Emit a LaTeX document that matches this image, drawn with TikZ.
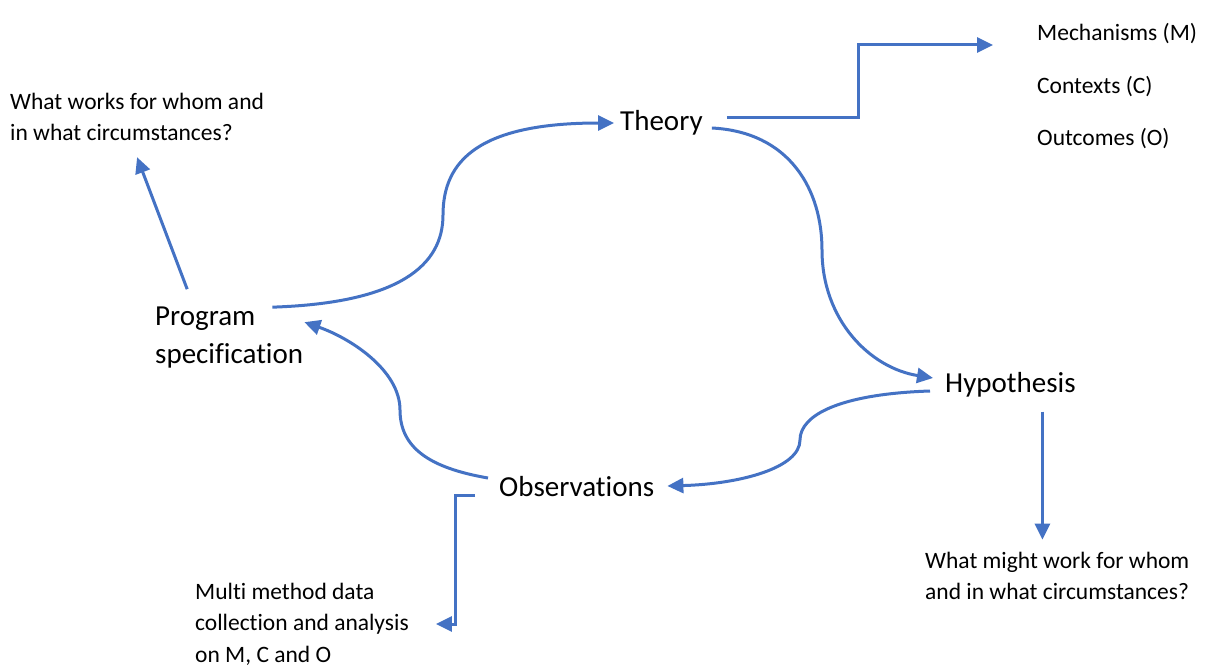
\documentclass[tikz,border=0pt]{standalone}
\usepackage{fontspec}
\setmainfont{Carlito}[Ligatures=NoCommon]
\usetikzlibrary{arrows.meta,calc}
\definecolor{cblue}{HTML}{4472C4}
\tikzset{
  big/.style={inner sep=0pt, anchor=west, align=left, font=\fontsize{29}{38}\selectfont},
  small/.style={inner sep=0pt, anchor=west, align=left, font=\fontsize{23.5}{31.5}\selectfont},
  conn/.style={draw=cblue, line width=3pt, -{Triangle[length=16pt,width=15pt]}},
}
\begin{document}
\begin{tikzpicture}[x=1pt,y=-1pt]
\useasboundingbox[fill=white] (0,0) rectangle (1232,671);
% nodes
\node[small] (works) at (10,117) {What works for whom and\\in what circumstances?};
\node[big] (theory) at (620,123) {Theory};
\node[small] (mech) at (1037,34) {Mechanisms (M)};
\node[small] (ctx) at (1037,87) {Contexts (C)};
\node[small] (out) at (1037,139) {Outcomes (O)};
\node[big] (prog) at (155,338) {Program\\specification};
\node[big] (hyp) at (945,385) {Hypothesis};
\node[big] (obs) at (499,487) {Observations};
\node[small] (might) at (925,576) {What might work for whom\\and in what circumstances?};
\node[small] (multi) at (195,624) {Multi method data\\collection and analysis\\on M, C and O};
% connectors
\draw[conn] ($(theory.east)+(24,-5)$) -- ++(132,0) |- ($(mech.west)+(-44,11)$);
\draw[conn] ($(prog.north east)+(-31,0)$) .. controls (400,303) and (443,265) .. (443,215)
   .. controls (443,160) and (480,123) .. ($(theory.west)+(-6,0)$);
\draw[conn] ($(theory.east)+(9,5)$) .. controls (790,132) and (822,190) .. (822,250)
   .. controls (822,320) and (870,368) .. ($(hyp.west)+(-12,-7)$);
\draw[conn] ($(hyp.west)+(-15,6)$) .. controls (840,394) and (800,415) .. (800,440)
   .. controls (800,468) and (740,484) .. ($(obs.east)+(13,-1)$);
\draw[conn] ($(obs.west)+(-11,-9)$) .. controls (430,468) and (400,448) .. (400,410)
   .. controls (400,370) and (350,338) .. ($(prog.north east)+(1,15)$);
\draw[conn] ($(prog.north)+(-42,-18)$) -- ($(works.south)+(0,16)$);
\draw[conn] ($(hyp.south)+(32,14)$) -- ++(0,128);
\draw[conn] ($(obs.west)+(-24,8)$) -- ++(-20,0) |- ($(multi.east)+(27,0)$);
\end{tikzpicture}
\end{document}
